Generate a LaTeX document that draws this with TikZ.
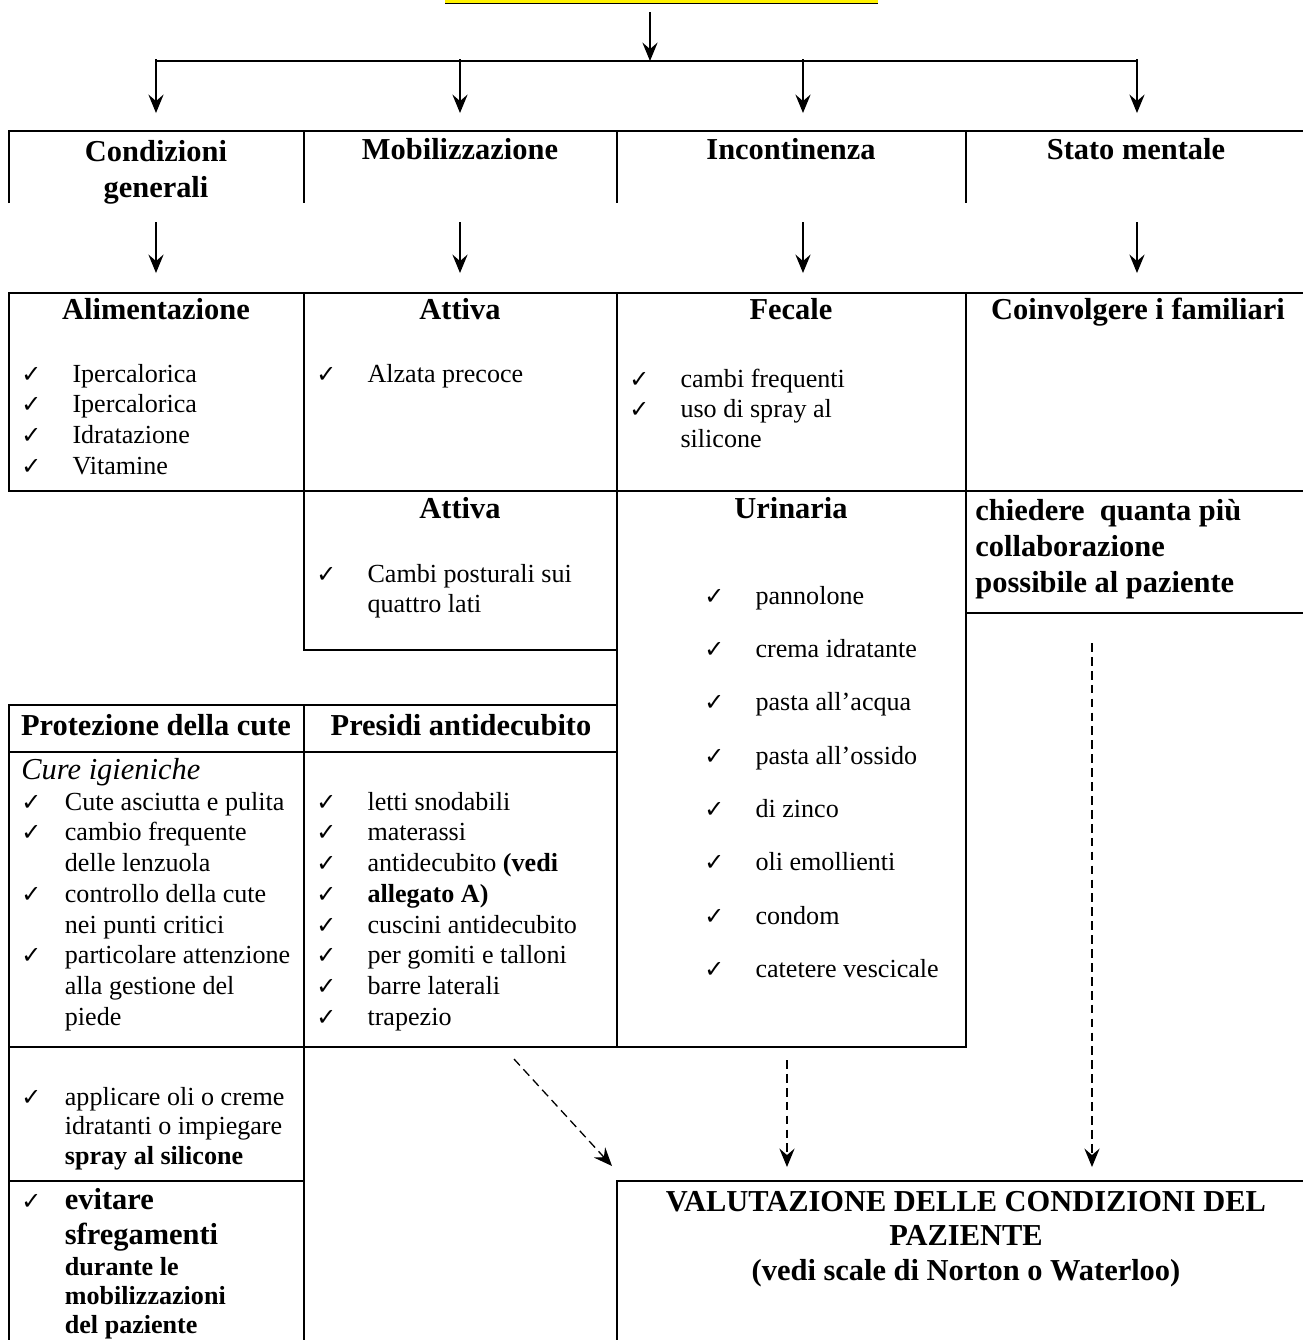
\documentclass[tikz,border=0pt]{standalone}
\usepackage{fontspec}
\setmainfont{Liberation Serif}
\newfontfamily\symfont{DejaVu Sans}
\usetikzlibrary{arrows.meta}

\newcommand{\chk}{{\symfont\fontsize{11}{11}\selectfont ✓}}
\newcommand{\ck}[2][23.5pt]{\makebox[#1][l]{\chk}#2}
\newcommand{\nock}[2][23.5pt]{\hspace*{#1}#2}

\begin{document}
\begin{tikzpicture}[x=0.46pt,y=-0.46pt,
    grid/.style={line width=0.9pt},
    arr/.style={line width=0.7pt,-{Stealth[length=8.5pt,width=7pt,inset=3pt]}},
    darr/.style={arr,line width=0.6pt,dash pattern=on 4pt off 2.4pt},
    head/.style={font=\fontsize{14}{16.6}\selectfont\bfseries,inner sep=0pt,text height=1.5ex,text depth=.25ex},
    headm/.style={font=\fontsize{14}{16.6}\selectfont\bfseries,inner sep=0pt,align=center},
    txt/.style={font=\fontsize{12}{13.8}\selectfont,anchor=west,inner sep=0pt,text height=1.5ex,text depth=.25ex}]
    \useasboundingbox (0,0) rectangle (1303,1340);

    % title highlight (cut at the top)
    \fill[yellow] (445,0) rectangle (878,3);
    \draw[line width=0.7pt] (445,3.6) -- (878,3.6);

    % distribution lines
    \coordinate (title) at (650,12);
    \coordinate (bus) at (650,61);
    \coordinate (bus-l) at (156,61);
    \coordinate (bus-r) at (1137,61);
    \draw[arr] (title) -- (bus);
    \draw[grid] (bus-l) -- (bus-r);
    \foreach \n/\x in {a1/156,a2/460,a3/803,a4/1137} {
        \coordinate (\n-top) at (\x,59);
        \coordinate (\n-bot) at (\x,113);
        \coordinate (\n-low) at (\x,222);
        \coordinate (\n-end) at (\x,273);
        \draw[arr] (\n-top) -- (\n-bot);
        \draw[arr] (\n-low) -- (\n-end);
    }

    % table lines
    \draw[grid] (9,203) -- (9,131) -- (1303,131);
    \foreach \x in {304,617,966} \draw[grid] (\x,131) -- (\x,203);
    \draw[grid] (1303,293) -- (9,293) -- (9,491) -- (1303,491);
    \foreach \x in {304,617,966} \draw[grid] (\x,293) -- (\x,491);
    \draw[grid] (304,491) -- (304,650) -- (617,650);
    \draw[grid] (617,491) -- (617,1047);
    \draw[grid] (9,1047) -- (966,1047) -- (966,491);
    \draw[grid] (966,613) -- (1303,613);
    \draw[grid] (9,1340) -- (9,705) -- (617,705);
    \draw[grid] (9,752) -- (617,752);
    \draw[grid] (304,705) -- (304,1340);
    \draw[grid] (9,1181) -- (304,1181);
    \draw[grid] (617,1340) -- (617,1181) -- (1303,1181);

    % headers
    \node[headm] (cond) at (156,172) {Condizioni\\generali};
    \node[head] (mob) at (460,153) {Mobilizzazione};
    \node[head] (inc) at (791,153) {Incontinenza};
    \node[head] (stato) at (1136,153) {Stato mentale};

    % second row
    \node[head] (alim) at (156,313) {Alimentazione};
    \node[head] (att1) at (460,313) {Attiva};
    \node[head] (fec) at (791,313) {Fecale};
    \node[head] (coinv) at (1138,313) {Coinvolgere i familiari};
    \foreach \t [count=\i from 0] in {Ipercalorica,Ipercalorica,Idratazione,Vitamine}
        \node[txt] (ali\i) at (21,376+30.7*\i) {\ck{\t}};
    \node[txt] (alz) at (316,376) {\ck{Alzata precoce}};
    \node[txt] (fec1) at (629,381) {\ck{cambi frequenti}};
    \node[txt] (fec2) at (629,411) {\ck{uso di spray al}};
    \node[txt] (fec3) at (629,441) {\nock{silicone}};

    % third row
    \node[head] (att2) at (460,512) {Attiva};
    \node[head] (urin) at (791,512) {Urinaria};
    \node[headm,align=left,anchor=west] (chied) at (975,549) {chiedere\ \ quanta più\\collaborazione\\possibile al paziente};
    \node[txt] (cam1) at (316,576) {\ck{Cambi posturali sui}};
    \node[txt] (cam2) at (316,606) {\nock{quattro lati}};
    \foreach \t [count=\i from 0] in {pannolone,crema idratante,pasta all’acqua,pasta all’ossido,di zinco,oli emollienti,condom,catetere vescicale}
        \node[txt] (uri\i) at (704,598+53.3*\i) {\ck{\t}};

    % protezione / presidi
    \node[head] (prot) at (156,729) {Protezione della cute};
    \node[head] (pres) at (461,729) {Presidi antidecubito};
    \node[txt,font=\fontsize{14}{16}\selectfont\itshape] (cure) at (21,773) {Cure igieniche};
    \foreach \t [count=\i from 0] in {{\ck[20pt]{Cute asciutta e pulita}},{\ck[20pt]{cambio frequente}},{\nock[20pt]{delle lenzuola}},{\ck[20pt]{controllo della cute}},{\nock[20pt]{nei punti critici}},{\ck[20pt]{particolare attenzione}},{\nock[20pt]{alla gestione del}},{\nock[20pt]{piede}}}
        \node[txt] (pro\i) at (21,804+30.7*\i) {\t};
    \foreach \t [count=\i from 0] in {letti snodabili,materassi,{antidecubito \textbf{(vedi}},{\textbf{allegato A)}},cuscini antidecubito,per gomiti e talloni,barre laterali,trapezio}
        \node[txt] (prs\i) at (316,804+30.7*\i) {\ck{\t}};

    % bottom left cells
    \node[txt] (app1) at (21,1099) {\ck[20pt]{applicare oli o creme}};
    \node[txt] (app2) at (21,1128) {\nock[20pt]{idratanti o impiegare}};
    \node[txt] (app3) at (21,1158) {\nock[20pt]{\textbf{spray al silicone}}};
    \node[txt,font=\fontsize{14}{16}\selectfont\bfseries] (evi1) at (21,1203) {\ck[20pt]{evitare}};
    \node[txt,font=\fontsize{14}{16}\selectfont\bfseries] (evi2) at (21,1238) {\nock[20pt]{sfregamenti}};
    \node[txt,font=\fontsize{12}{14}\selectfont\bfseries] (evi3) at (21,1269) {\nock[20pt]{durante le}};
    \node[txt,font=\fontsize{12}{14}\selectfont\bfseries] (evi4) at (21,1298) {\nock[20pt]{mobilizzazioni}};
    \node[txt,font=\fontsize{12}{14}\selectfont\bfseries] (evi5) at (21,1327) {\nock[20pt]{del paziente}};

    % valutazione
    \node[headm,font=\fontsize{14}{15.8}\selectfont\bfseries] (val) at (966,1239) {VALUTAZIONE DELLE CONDIZIONI DEL\\PAZIENTE\\(vedi scale di Norton o Waterloo)};

    % dashed arrows
    \coordinate (d1s) at (514,1059);
    \coordinate (d1e) at (612,1166);
    \coordinate (d2s) at (787,1060);
    \coordinate (d2e) at (787,1167);
    \coordinate (d3s) at (1092,643);
    \coordinate (d3e) at (1092,1167);
    \draw[darr] (d1s) -- (d1e);
    \draw[darr] (d2s) -- (d2e);
    \draw[darr] (d3s) -- (d3e);
\end{tikzpicture}
\end{document}
